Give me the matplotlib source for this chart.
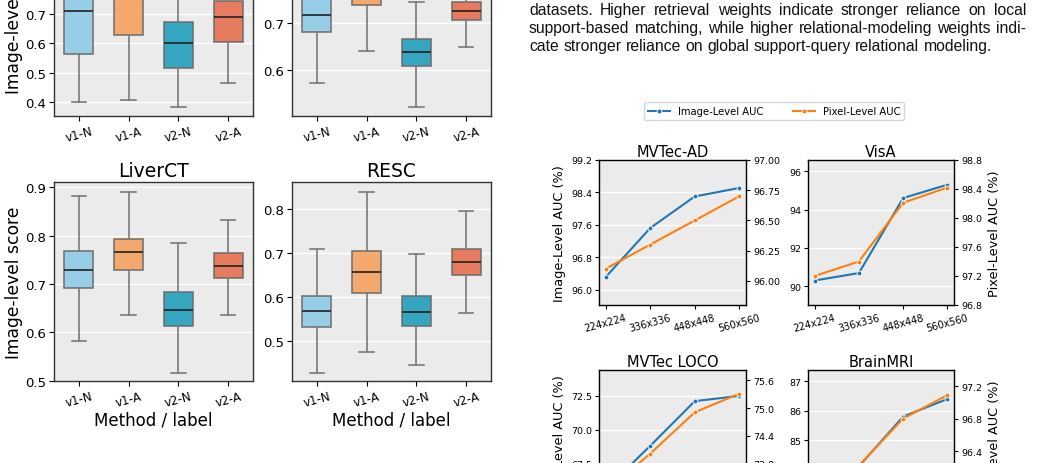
import matplotlib
matplotlib.use("Agg")
import matplotlib.pyplot as plt
from matplotlib.lines import Line2D

W, H = 1039, 464
BG = "#EBEBEB"

# ---- box plot summaries (v1-N, v1-A, v2-N, v2-A) ----
methods = ["v1-N", "v1-A", "v2-N", "v2-A"]
box_colors = ["#8ECAE6", "#F4A261", "#219EBC", "#E76F51"]

# top-left panel (top part cut off in the page)
tl_whislo = [0.398, 0.405, 0.383, 0.463]
tl_q1 = [0.562, 0.628, 0.515, 0.603]
tl_med = [0.710, 0.780, 0.600, 0.688]
tl_q3 = [0.800, 0.850, 0.671, 0.743]
tl_whishi = [0.950, 0.980, 0.850, 0.830]

# top-right panel
tr_whislo = [0.571, 0.641, 0.520, 0.648]
tr_q1 = [0.680, 0.739, 0.608, 0.707]
tr_med = [0.718, 0.780, 0.637, 0.726]
tr_q3 = [0.770, 0.820, 0.666, 0.746]
tr_whishi = [0.860, 0.900, 0.746, 0.800]

# LiverCT
lv_whislo = [0.582, 0.636, 0.516, 0.635]
lv_q1 = [0.691, 0.728, 0.614, 0.712]
lv_med = [0.728, 0.766, 0.647, 0.738]
lv_q3 = [0.768, 0.794, 0.684, 0.764]
lv_whishi = [0.883, 0.891, 0.785, 0.833]

# RESC
rs_whislo = [0.427, 0.474, 0.445, 0.563]
rs_q1 = [0.530, 0.609, 0.534, 0.650]
rs_med = [0.567, 0.657, 0.566, 0.678]
rs_q3 = [0.602, 0.705, 0.601, 0.708]
rs_whishi = [0.709, 0.838, 0.698, 0.795]

# ---- resolution study ----
resolutions = ["224x224", "336x336", "448x448", "560x560"]
mvtec_img = [96.31, 97.52, 98.30, 98.51]
mvtec_pix = [96.10, 96.30, 96.50, 96.70]
visa_img = [90.30, 90.69, 94.61, 95.31]
visa_pix = [97.20, 97.40, 98.21, 98.42]
loco_img = [65.6, 68.81, 72.11, 72.50]
loco_pix = [73.2, 74.02, 74.91, 75.31]
brain_img = [83.4, 84.1, 85.80, 86.40]
brain_pix = [95.9, 96.22, 96.80, 97.09]

paragraph = [
    "datasets. Higher retrieval weights indicate stronger reliance on local",
    "support-based matching, while higher relational-modeling weights indi-",
    "cate stronger reliance on global support-query relational modeling.",
]

fig = plt.figure(figsize=(W / 100, H / 100), dpi=100)


def px_axes(x0, x1, y0, y1):
    # pixel box (top-left origin) -> figure axes
    return fig.add_axes([x0 / W, 1 - y1 / H, (x1 - x0) / W, (y1 - y0) / H])


def style(ax):
    ax.set_facecolor(BG)
    ax.set_axisbelow(True)
    ax.grid(axis="y", color="white", lw=1.0)
    for s in ax.spines.values():
        s.set_color("#333333")
        s.set_linewidth(1.0)


def box_panel(ax, lo, q1, med, q3, hi, ylim, yticks, title=None, ylabel=None, xlabel=None):
    stats = [dict(whislo=a, q1=b, med=c, q3=d, whishi=e, fliers=[])
             for a, b, c, d, e in zip(lo, q1, med, q3, hi)]
    bp = ax.bxp(stats, positions=range(4), widths=0.58, patch_artist=True,
                showfliers=False,
                boxprops=dict(edgecolor="#6b6b6b", lw=1.2),
                whiskerprops=dict(color="#7a7a7a", lw=1.2),
                capprops=dict(color="#7a7a7a", lw=1.2),
                medianprops=dict(color="#222222", lw=1.2))
    for patch, c in zip(bp["boxes"], box_colors):
        patch.set_facecolor(c)
        patch.set_alpha(0.9)
    style(ax)
    ax.set_xlim(-0.5, 3.5)
    ax.set_ylim(*ylim)
    ax.set_yticks(yticks)
    ax.set_yticklabels([f"{t:.1f}" for t in yticks], fontsize=9.5)
    ax.set_xticks(range(4))
    ax.set_xticklabels(methods, rotation=15, fontsize=8.5)
    ax.tick_params(length=3.5, pad=2.5)
    if title:
        ax.set_title(title, fontsize=13.5, pad=4)
    if ylabel:
        ax.set_ylabel(ylabel, fontsize=12.3, labelpad=1)
    if xlabel:
        ax.set_xlabel(xlabel, fontsize=12, labelpad=1)


ax = px_axes(54, 253, -82, 117)
box_panel(ax, tl_whislo, tl_q1, tl_med, tl_q3, tl_whishi, (0.352, 1.03),
          [0.4, 0.5, 0.6, 0.7, 0.8, 0.9, 1.0], ylabel="Image-level score")
ax = px_axes(292, 491, -82, 117)
box_panel(ax, tr_whislo, tr_q1, tr_med, tr_q3, tr_whishi, (0.501, 0.927),
          [0.6, 0.7, 0.8, 0.9])
ax = px_axes(54, 253, 183, 382)
box_panel(ax, lv_whislo, lv_q1, lv_med, lv_q3, lv_whishi, (0.4995, 0.911),
          [0.5, 0.6, 0.7, 0.8, 0.9], title="LiverCT",
          ylabel="Image-level score", xlabel="Method / label")
ax = px_axes(292, 491, 183, 382)
box_panel(ax, rs_whislo, rs_q1, rs_med, rs_q3, rs_whishi, (0.408, 0.861),
          [0.5, 0.6, 0.7, 0.8], title="RESC", xlabel="Method / label")


def line_panel(ax, img, pix, ylim_l, ticks_l, fmt_l, ylim_r, ticks_r, fmt_r,
               title, left_label=False, right_label=False):
    style(ax)
    x = range(len(resolutions))
    ax.plot(x, img, color="#1f77b4", lw=1.5, marker="o", ms=3.5,
            mec="white", mew=0.6)
    ax.set_ylim(*ylim_l)
    ax.set_yticks(ticks_l)
    ax.set_yticklabels([fmt_l.format(t) for t in ticks_l], fontsize=6.8)
    ax.set_xticks(list(x))
    ax.set_xticklabels(resolutions, rotation=15, fontsize=7)
    ax.tick_params(length=3, pad=2)
    ax.set_title(title, fontsize=10.5, pad=3)
    ax2 = ax.twinx()
    ax2.plot(x, pix, color="#ff7f0e", lw=1.5, marker="o", ms=3.5,
             mec="white", mew=0.6)
    ax2.set_ylim(*ylim_r)
    ax2.set_yticks(ticks_r)
    ax2.set_yticklabels([fmt_r.format(t) for t in ticks_r], fontsize=6.8)
    ax2.tick_params(length=3, pad=2)
    ax2.grid(False)
    if left_label:
        ax.set_ylabel("Image-Level AUC (%)", fontsize=9.3)
    if right_label:
        ax2.set_ylabel("Pixel-Level AUC (%)", fontsize=9.3)


ax = px_axes(599, 746, 161, 306)
line_panel(ax, mvtec_img, mvtec_pix, (95.62, 99.2), [96.0, 96.8, 97.6, 98.4, 99.2], "{:.1f}",
           (95.80, 97.0), [96.0, 96.25, 96.5, 96.75, 97.0], "{:.2f}",
           "MVTec-AD", left_label=True)
ax = px_axes(808, 954, 161, 306)
line_panel(ax, visa_img, visa_pix, (89.02, 96.6), [90, 92, 94, 96], "{:.0f}",
           (96.8, 98.8), [96.8, 97.2, 97.6, 98.0, 98.4, 98.8], "{:.1f}",
           "VisA", right_label=True)
ax = px_axes(599, 746, 371, 516)
line_panel(ax, loco_img, loco_pix, (63.7, 74.41), [65.0, 67.5, 70.0, 72.5], "{:.1f}",
           (72.7, 75.82), [73.2, 73.8, 74.4, 75.0, 75.6], "{:.1f}",
           "MVTec LOCO", left_label=True)
ax = px_axes(808, 954, 371, 516)
line_panel(ax, brain_img, brain_pix, (82.44, 87.39), [83, 84, 85, 86, 87], "{:.0f}",
           (95.61, 97.4), [96.0, 96.4, 96.8, 97.2], "{:.1f}",
           "BrainMRI", right_label=True)

handles = [Line2D([], [], color="#1f77b4", lw=1.5, marker="o", ms=3.5, mec="white", mew=0.6),
           Line2D([], [], color="#ff7f0e", lw=1.5, marker="o", ms=3.5, mec="white", mew=0.6)]
fig.legend(handles, ["Image-Level AUC", "Pixel-Level AUC"], loc="center",
           bbox_to_anchor=(774 / W, 1 - 112 / H), ncol=2, fontsize=7.2,
           frameon=True, edgecolor="#cccccc", fancybox=True,
           handlelength=2.2, columnspacing=3.0, borderpad=0.4)

# paragraph text, lines 1-2 justified
x0, x1 = 529, 1026
baselines = [15, 32.8, 50.6]
fsize = 11.3
renderer = fig.canvas.get_renderer()
for i, (line, yb) in enumerate(zip(paragraph, baselines)):
    words = line.split()
    texts = [fig.text(0, 1 - yb / H, w, fontsize=fsize, family="Liberation Sans",
                      va="baseline", ha="left", color="#111111") for w in words]
    widths = [t.get_window_extent(renderer).width for t in texts]
    if i < 2:
        gap = (x1 - x0 - sum(widths)) / (len(words) - 1)
    else:
        sp = fig.text(0, 0, "a a", fontsize=fsize, family="Liberation Sans")
        sp2 = fig.text(0, 0, "aa", fontsize=fsize, family="Liberation Sans")
        gap = sp.get_window_extent(renderer).width - sp2.get_window_extent(renderer).width
        sp.remove()
        sp2.remove()
    xp = x0
    for t, w in zip(texts, widths):
        t.set_x(xp / W)
        xp += w + gap

fig.savefig("out.png", dpi=100)
